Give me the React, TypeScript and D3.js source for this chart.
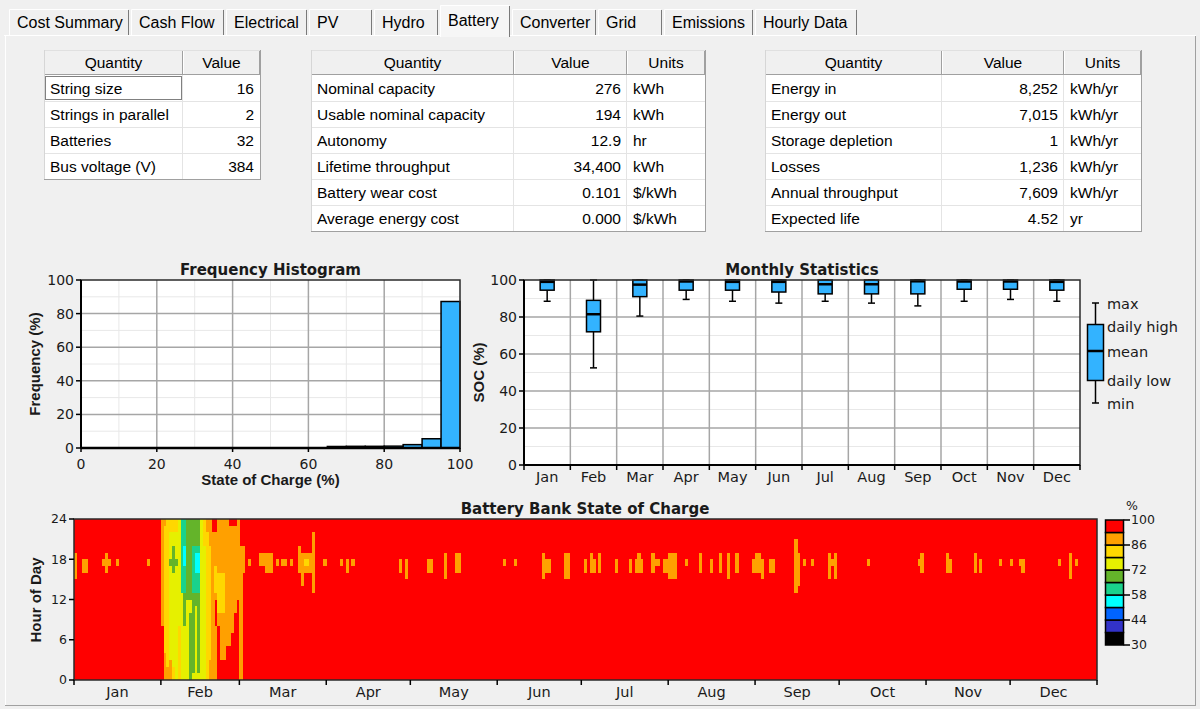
import React from "react";
import * as d3 from "d3";

// ---------------- data ----------------
const tabLabels = ["Cost Summary", "Cash Flow", "Electrical", "PV", "Hydro", "Battery", "Converter", "Grid", "Emissions", "Hourly Data"];
const selectedTab = "Battery";

const stringHeaders = ["Quantity", "Value"];
const stringQuantities = ["String size", "Strings in parallel", "Batteries", "Bus voltage (V)"];
const stringValues = ["16", "2", "32", "384"];

const tableHeaders = ["Quantity", "Value", "Units"];
const capacityQuantities = ["Nominal capacity", "Usable nominal capacity", "Autonomy", "Lifetime throughput", "Battery wear cost", "Average energy cost"];
const capacityValues = ["276", "194", "12.9", "34,400", "0.101", "0.000"];
const capacityUnits = ["kWh", "kWh", "hr", "kWh", "$/kWh", "$/kWh"];

const energyQuantities = ["Energy in", "Energy out", "Storage depletion", "Losses", "Annual throughput", "Expected life"];
const energyValues = ["8,252", "7,015", "1", "1,236", "7,609", "4.52"];
const energyUnits = ["kWh/yr", "kWh/yr", "kWh/yr", "kWh/yr", "kWh/yr", "yr"];

// Frequency histogram (5% bins)
const histBinStart = [0, 5, 10, 15, 20, 25, 30, 35, 40, 45, 50, 55, 60, 65, 70, 75, 80, 85, 90, 95];
const histFrequency = [0, 0, 0, 0, 0, 0, 0, 0, 0, 0, 0, 0, 0, 0.9, 1.0, 1.0, 1.1, 2.0, 5.5, 87.2];
const histTicks = [0, 20, 40, 60, 80, 100];

// Monthly statistics (SOC %)
const months = ["Jan", "Feb", "Mar", "Apr", "May", "Jun", "Jul", "Aug", "Sep", "Oct", "Nov", "Dec"];
const socMin = [88.5, 52.5, 80.5, 89.5, 88.5, 87.5, 88.5, 87.5, 86, 88.5, 89.5, 88.5];
const socDailyLow = [94.5, 72, 91, 94.5, 94.5, 93.5, 92.5, 92.5, 92.5, 95, 95, 94.5];
const socMean = [99, 81.5, 97.5, 99.2, 99, 99, 97.7, 97.7, 99.3, 99.2, 99.2, 99];
const socDailyHigh = [100, 89, 100, 100, 100, 100, 100, 100, 100, 100, 100, 100];
const socMax = [100, 100, 100, 100, 100, 100, 100, 100, 100, 100, 100, 100];
const legendLabels = ["max", "daily high", "mean", "daily low", "min"];

// Heat map (day of year x hour of day)
const monthStartDay = [0, 31, 59, 90, 120, 151, 181, 212, 243, 273, 304, 334, 365];
const hourTicks = [0, 6, 12, 18, 24];
const socBandEdges = [30, 37, 44, 51, 58, 65, 72, 79, 86, 93, 100];
const socBandColors = ["#000000", "#3232c8", "#0064ff", "#00ffff", "#1ad28c", "#64b42a", "#e6f000", "#ffd700", "#ffa000", "#ff0000"];
const colorbarTicks = [100, 86, 72, 58, 44, 30];
const fullSoc = 100;
// [firstDay, lastDay, firstHour, lastHour, SOC%]  (everything else is ~100%)
const lowSocPatches: [number, number, number, number, number][] = [
  // January
  [0, 0, 15, 18, 90], [3, 4, 16, 17, 90], [10, 10, 17, 17, 90], [11, 11, 16, 18, 90], [12, 12, 17, 17, 90],
  [15, 15, 17, 17, 90], [26, 26, 17, 17, 90],
  // February depletion
  [31, 31, 8, 23, 90],
  [32, 32, 0, 23, 83], [32, 32, 0, 3, 90], [32, 32, 23, 23, 90],
  [33, 33, 0, 23, 83], [33, 33, 0, 1, 90],
  [34, 37, 0, 23, 76], [34, 34, 0, 2, 90], [35, 35, 0, 1, 83], [37, 37, 0, 7, 83], [34, 36, 22, 23, 83],
  [34, 36, 17, 17, 69], [35, 35, 16, 19, 69],
  [38, 38, 0, 12, 76], [38, 38, 13, 23, 62],
  [39, 39, 0, 7, 76], [39, 39, 8, 12, 69], [39, 39, 13, 23, 62], [39, 39, 17, 19, 55],
  [40, 41, 0, 11, 76], [40, 41, 12, 23, 69], [41, 41, 0, 9, 69],
  [42, 44, 0, 23, 69], [42, 44, 13, 19, 62], [43, 44, 16, 18, 55], [42, 42, 0, 0, 76], [43, 43, 0, 10, 76], [44, 44, 0, 0, 76],
  [45, 45, 0, 23, 76],
  [46, 46, 0, 19, 76], [46, 46, 20, 23, 83],
  [47, 47, 0, 23, 83], [47, 47, 22, 23, 90],
  [48, 48, 0, 23, 83], [48, 48, 20, 23, 90], [48, 48, 0, 2, 90],
  [49, 49, 0, 21, 90],
  [50, 50, 0, 7, 90], [50, 50, 12, 21, 90], [50, 50, 13, 16, 83],
  [51, 51, 8, 23, 90], [51, 51, 10, 15, 83],
  [52, 53, 3, 23, 90], [52, 53, 10, 15, 83],
  [54, 54, 5, 23, 90], [55, 55, 5, 22, 90], [56, 56, 7, 22, 90], [57, 57, 10, 22, 90],
  [58, 58, 12, 23, 90], [59, 59, 0, 19, 90],
  // March
  [60, 60, 16, 19, 90], [62, 62, 17, 17, 90], [66, 67, 17, 18, 90], [68, 68, 16, 18, 90], [69, 70, 16, 18, 90],
  [72, 72, 17, 17, 90], [74, 74, 17, 17, 90], [75, 75, 17, 17, 90], [77, 77, 17, 17, 90],
  [80, 84, 16, 18, 90], [81, 81, 14, 15, 90], [80, 80, 19, 19, 90], [85, 85, 13, 21, 90], [82, 83, 17, 17, 83],
  // April
  [89, 89, 17, 17, 90], [95, 95, 17, 17, 90], [97, 97, 16, 17, 90], [99, 99, 17, 17, 90],
  [116, 116, 16, 17, 90], [118, 118, 15, 17, 90],
  // May
  [126, 127, 16, 17, 90], [132, 132, 15, 18, 90], [136, 137, 16, 18, 90],
  // June
  [153, 153, 17, 17, 90], [157, 157, 17, 17, 90], [167, 167, 15, 18, 90], [168, 169, 16, 17, 90], [175, 176, 15, 18, 90],
  // July
  [182, 182, 16, 17, 90], [184, 184, 16, 18, 90], [185, 185, 16, 17, 90], [187, 187, 16, 18, 90], [193, 193, 16, 17, 90],
  [198, 198, 16, 17, 90], [200, 202, 16, 17, 90], [201, 201, 18, 18, 90], [206, 206, 16, 18, 90], [207, 208, 17, 17, 90],
  [210, 211, 16, 17, 90], [212, 214, 15, 18, 90],
  // August
  [218, 218, 17, 17, 90], [223, 223, 16, 18, 90], [227, 227, 16, 17, 90], [230, 230, 16, 18, 90], [233, 233, 15, 18, 90],
  [236, 236, 16, 18, 90], [242, 242, 16, 17, 90], [243, 244, 16, 18, 90], [245, 245, 15, 17, 90], [248, 249, 16, 17, 90],
  // September
  [257, 257, 13, 20, 90], [258, 258, 14, 18, 90], [260, 260, 17, 17, 90], [263, 263, 17, 17, 90],
  [269, 269, 15, 18, 90], [270, 270, 17, 17, 90], [271, 271, 15, 18, 90],
  // October
  [283, 283, 17, 17, 90], [301, 301, 17, 17, 90], [302, 302, 16, 18, 90],
  // November
  [311, 311, 16, 18, 90], [312, 312, 16, 17, 90], [321, 321, 16, 18, 90], [323, 323, 16, 17, 90],
  [330, 330, 17, 17, 90], [334, 334, 17, 17, 90], [337, 338, 17, 17, 90], [338, 338, 16, 17, 90],
  // December
  [351, 351, 17, 17, 90], [355, 355, 15, 18, 90], [357, 357, 17, 17, 90],
];

// ---------------- layout / style ----------------
const W = 1200;
const H = 709;
const FONT_UI = "'Liberation Sans', Arial, Helvetica, sans-serif";
const FONT_CH = "'DejaVu Sans', Verdana, sans-serif";
const TXT = "#1a1a1a";
const BLUE = "#33b3ff";
const GRID_MAJOR = "#a6a6a6";
const GRID_MINOR = "#e8e8e8";
const FRAME = "#2a2a2a";
const tabEdges = [9, 131, 226, 309, 374, 440, 512, 598, 664, 755, 859];

function Tabs() {
  return (
    <g>
      <line x1={4} x2={1196} y1={35.5} y2={35.5} stroke="#ffffff" />
      {tabLabels.map((t, i) => {
        const sel = t === selectedTab;
        const x0 = tabEdges[i];
        const x1 = tabEdges[i + 1] - 2;
        const y0 = sel ? 5 : 9;
        const y1 = sel ? 37 : 35;
        return (
          <g key={t}>
            <rect x={x0} y={y0} width={x1 - x0} height={y1 - y0} fill={sel ? "#f6f6f6" : "#f0f0f0"} />
            <path d={`M${x0 + 0.5},${y1} V${y0 + 0.5} H${x1 - 1}`} stroke="#ffffff" fill="none" />
            <line x1={x1 - 0.5} x2={x1 - 0.5} y1={y0 + 1} y2={y1} stroke="#7a7a7a" />
            <text x={x0 + 8} y={sel ? 25.5 : 28} fontFamily={FONT_UI} fontSize={16} fill="#000">{t}</text>
          </g>
        );
      })}
      <line x1={5.5} x2={5.5} y1={36} y2={705} stroke="#ffffff" />
      <line x1={1195.5} x2={1195.5} y1={36} y2={705} stroke="#a0a0a0" />
      <line x1={5} x2={1196} y1={705.5} y2={705.5} stroke="#a0a0a0" />
    </g>
  );
}

type Align = "start" | "end";
function DataTable(props: { x: number; y: number; widths: number[]; headers: string[]; columns: string[][]; aligns: Align[]; focusFirst?: boolean }) {
  const { x, y, widths, headers, columns, aligns, focusFirst } = props;
  const HH = 25;
  const RH = 26;
  const pad = 6;
  const nRows = columns[0].length;
  const edges = [x];
  widths.forEach((w) => edges.push(edges[edges.length - 1] + w));
  const right = edges[edges.length - 1];
  const bodyTop = y + HH;
  const bottom = bodyTop + nRows * RH;
  return (
    <g fontFamily={FONT_UI} fontSize={15.5}>
      <rect x={x} y={bodyTop} width={right - x} height={nRows * RH} fill="#ffffff" />
      {d3.range(1, nRows).map((r) => (
        <line key={"r" + r} x1={x} x2={right} y1={bodyTop + r * RH + 0.5} y2={bodyTop + r * RH + 0.5} stroke="#e4e4e4" />
      ))}
      {edges.slice(1, -1).map((e, i) => (
        <line key={"c" + i} x1={e - 0.5} x2={e - 0.5} y1={bodyTop} y2={bottom} stroke="#e4e4e4" />
      ))}
      {headers.map((h, i) => (
        <g key={h}>
          <rect x={edges[i]} y={y} width={widths[i]} height={HH} fill="#f0f0f0" />
          <line x1={edges[i] + 0.5} x2={edges[i] + 0.5} y1={y} y2={y + HH} stroke="#ffffff" />
          <line x1={edges[i + 1] - 0.5} x2={edges[i + 1] - 0.5} y1={y} y2={y + HH} stroke="#a0a0a0" />
          <text x={(edges[i] + edges[i + 1]) / 2} y={y + 18} textAnchor="middle" fill="#000">{h}</text>
        </g>
      ))}
      <line x1={x} x2={right} y1={y + 0.5} y2={y + 0.5} stroke="#e0e0e0" />
      <line x1={x} x2={right} y1={bodyTop - 0.5} y2={bodyTop - 0.5} stroke="#a0a0a0" />
      {columns.map((col, c) =>
        col.map((v, r) => (
          <text
            key={c + "-" + r}
            x={aligns[c] === "start" ? edges[c] + pad : edges[c + 1] - pad}
            y={bodyTop + r * RH + 18.5}
            textAnchor={aligns[c]}
            fill="#000"
          >
            {v}
          </text>
        ))
      )}
      {focusFirst && (
        <rect x={x + 1.5} y={bodyTop + 1.5} width={widths[0] - 3} height={RH - 3} fill="none" stroke="#000" strokeDasharray="1,1" />
      )}
      <line x1={x + 0.5} x2={x + 0.5} y1={y} y2={bottom} stroke="#d6d6d6" />
      <line x1={right + 0.5} x2={right + 0.5} y1={y} y2={bottom + 1} stroke="#a0a0a0" />
      <line x1={x} x2={right + 1} y1={bottom + 0.5} y2={bottom + 0.5} stroke="#a0a0a0" />
    </g>
  );
}

function Histogram() {
  const x = d3.scaleLinear().domain([0, 100]).range([81, 460]);
  const y = d3.scaleLinear().domain([0, 100]).range([448, 280]);
  const minor = d3.range(10, 100, 20);
  const major = [20, 40, 60, 80];
  return (
    <g fontFamily={FONT_CH} fill={TXT}>
      <text x={(x(0) + x(100)) / 2} y={275} textAnchor="middle" fontWeight="bold" fontSize={15}>Frequency Histogram</text>
      <rect x={x(0)} y={y(100)} width={x(100) - x(0)} height={y(0) - y(100)} fill="#ffffff" />
      {minor.map((v) => (
        <g key={"m" + v}>
          <line x1={x(v)} x2={x(v)} y1={y(0)} y2={y(100)} stroke={GRID_MINOR} />
          <line x1={x(0)} x2={x(100)} y1={y(v)} y2={y(v)} stroke={GRID_MINOR} />
        </g>
      ))}
      {major.map((v) => (
        <g key={"M" + v}>
          <line x1={x(v)} x2={x(v)} y1={y(0)} y2={y(100)} stroke={GRID_MAJOR} strokeWidth={1.5} />
          <line x1={x(0)} x2={x(100)} y1={y(v)} y2={y(v)} stroke={GRID_MAJOR} strokeWidth={1.5} />
        </g>
      ))}
      {histBinStart.map((b, i) =>
        histFrequency[i] > 0 ? (
          <rect key={b} x={x(b)} y={y(histFrequency[i])} width={x(b + 5) - x(b)} height={y(0) - y(histFrequency[i])} fill={BLUE} stroke="#000" strokeWidth={1.5} />
        ) : null
      )}
      <rect x={x(0)} y={y(100)} width={x(100) - x(0)} height={y(0) - y(100)} fill="none" stroke={FRAME} strokeWidth={1.5} />
      <line x1={x(0)} x2={x(100)} y1={y(0)} y2={y(0)} stroke="#000" strokeWidth={2.5} />
      <line x1={x(0)} x2={x(0)} y1={y(0)} y2={y(100)} stroke="#000" strokeWidth={2} />
      {histTicks.map((t) => (
        <g key={"t" + t}>
          <line x1={x(0) - 5} x2={x(0)} y1={y(t)} y2={y(t)} stroke="#000" strokeWidth={1.5} />
          <text x={x(0) - 7} y={y(t) + 5} textAnchor="end" fontSize={14}>{t}</text>
          <line x1={x(t)} x2={x(t)} y1={y(0)} y2={y(0) + 4} stroke="#000" strokeWidth={1.5} />
          <text x={x(t)} y={469} textAnchor="middle" fontSize={14}>{t}</text>
        </g>
      ))}
      <text x={(x(0) + x(100)) / 2} y={485} textAnchor="middle" fontFamily={FONT_UI} fontWeight="bold" fontSize={15}>State of Charge (%)</text>
      <text transform={`translate(40,${(y(0) + y(100)) / 2}) rotate(-90)`} textAnchor="middle" fontFamily={FONT_UI} fontWeight="bold" fontSize={15}>Frequency (%)</text>
    </g>
  );
}

function MonthlyChart() {
  const x = d3.scaleBand<string>().domain(months).range([524, 1080]);
  const y = d3.scaleLinear().domain([0, 100]).range([465, 280]);
  const bw = 14;
  const cap = 7;
  const bandEdges = months.map((m) => x(m) as number).concat([1080]);
  return (
    <g fontFamily={FONT_CH} fill={TXT}>
      <text x={802} y={275} textAnchor="middle" fontWeight="bold" fontSize={15}>Monthly Statistics</text>
      <rect x={524} y={y(100)} width={556} height={y(0) - y(100)} fill="#ffffff" />
      {[10, 30, 50, 70, 90].map((v) => (
        <line key={"m" + v} x1={524} x2={1080} y1={y(v)} y2={y(v)} stroke={GRID_MINOR} />
      ))}
      {[20, 40, 60, 80].map((v) => (
        <line key={"M" + v} x1={524} x2={1080} y1={y(v)} y2={y(v)} stroke={GRID_MAJOR} strokeWidth={1.5} />
      ))}
      {bandEdges.slice(1, -1).map((e, i) => (
        <line key={"v" + i} x1={e} x2={e} y1={y(0)} y2={y(100)} stroke={GRID_MAJOR} strokeWidth={1.5} />
      ))}
      {months.map((m, i) => {
        const cx = (x(m) as number) + x.bandwidth() / 2;
        return (
          <g key={m}>
            <line x1={cx} x2={cx} y1={y(socMin[i])} y2={y(socDailyLow[i])} stroke="#000" strokeWidth={1.5} />
            <line x1={cx} x2={cx} y1={y(socDailyHigh[i])} y2={y(socMax[i])} stroke="#000" strokeWidth={1.5} />
            <line x1={cx - cap / 2} x2={cx + cap / 2} y1={y(socMin[i])} y2={y(socMin[i])} stroke="#000" strokeWidth={1.5} />
            <line x1={cx - cap / 2} x2={cx + cap / 2} y1={y(socMax[i])} y2={y(socMax[i])} stroke="#000" strokeWidth={1.5} />
            <rect x={cx - bw / 2} y={y(socDailyHigh[i])} width={bw} height={y(socDailyLow[i]) - y(socDailyHigh[i])} fill={BLUE} stroke="#000" strokeWidth={1.5} />
            <line x1={cx - bw / 2} x2={cx + bw / 2} y1={y(socMean[i])} y2={y(socMean[i])} stroke="#000" strokeWidth={2.5} />
            <text x={cx} y={482} textAnchor="middle" fontSize={14.5}>{m}</text>
          </g>
        );
      })}
      <rect x={524} y={y(100)} width={556} height={y(0) - y(100)} fill="none" stroke={FRAME} strokeWidth={1.5} />
      <line x1={524} x2={1080} y1={y(0)} y2={y(0)} stroke="#000" strokeWidth={2} />
      <line x1={524} x2={524} y1={y(0)} y2={y(100)} stroke="#000" strokeWidth={2} />
      {bandEdges.map((e, i) => (
        <line key={"bt" + i} x1={e} x2={e} y1={y(0)} y2={y(0) + 5} stroke="#000" strokeWidth={1.5} />
      ))}
      {histTicks.map((t) => (
        <g key={"yt" + t}>
          <line x1={519} x2={524} y1={y(t)} y2={y(t)} stroke="#000" strokeWidth={1.5} />
          <text x={517} y={y(t) + 5} textAnchor="end" fontSize={14}>{t}</text>
        </g>
      ))}
      <text transform={`translate(484,${(y(0) + y(100)) / 2}) rotate(-90)`} textAnchor="middle" fontFamily={FONT_UI} fontWeight="bold" fontSize={15}>SOC (%)</text>
      {/* legend glyph */}
      <g>
        <line x1={1095.5} x2={1095.5} y1={303} y2={403} stroke="#000" strokeWidth={1.5} />
        <line x1={1092} x2={1099} y1={303} y2={303} stroke="#000" strokeWidth={1.5} />
        <line x1={1092} x2={1099} y1={403} y2={403} stroke="#000" strokeWidth={1.5} />
        <rect x={1087.5} y={324.5} width={16} height={56} fill={BLUE} stroke="#000" strokeWidth={1.5} />
        <line x1={1087.5} x2={1103.5} y1={351} y2={351} stroke="#000" strokeWidth={2.5} />
        {legendLabels.map((l, i) => (
          <text key={l} x={1107} y={[304, 327, 352, 381, 404][i]} dy="0.35em" fontSize={14.5}>{l}</text>
        ))}
      </g>
    </g>
  );
}

function HeatMap() {
  const x = d3.scaleLinear().domain([0, 365]).range([74, 1097]);
  const y = d3.scaleLinear().domain([0, 24]).range([680, 519]);
  const color = d3.scaleThreshold<number, string>().domain(socBandEdges.slice(1, -1)).range(socBandColors);
  const grid: number[][] = d3.range(365).map(() => d3.range(24).map(() => fullSoc));
  for (const [d0, d1, h0, h1, v] of lowSocPatches) {
    for (let d = d0; d <= d1; d++) for (let h = h0; h <= h1; h++) grid[d][h] = v;
  }
  const fullColor = color(fullSoc);
  const cells: { d: number; h0: number; h1: number; c: string }[] = [];
  grid.forEach((col, d) => {
    let h = 0;
    while (h < 24) {
      const c = color(col[h]);
      let e = h;
      while (e + 1 < 24 && color(col[e + 1]) === c) e++;
      if (c !== fullColor) cells.push({ d, h0: h, h1: e, c });
      h = e + 1;
    }
  });
  const yc = d3.scaleLinear().domain([30, 100]).range([645, 520]);
  return (
    <g fontFamily={FONT_CH} fill={TXT}>
      <text x={585} y={514} textAnchor="middle" fontWeight="bold" fontSize={15}>Battery Bank State of Charge</text>
      <rect x={x(0)} y={y(24)} width={x(365) - x(0)} height={y(0) - y(24)} fill={fullColor} />
      <g shapeRendering="crispEdges">
        {cells.map((c, i) => (
          <rect key={i} x={x(c.d)} y={y(c.h1 + 1)} width={x(c.d + 1) - x(c.d) + 0.4} height={y(c.h0) - y(c.h1 + 1)} fill={c.c} />
        ))}
      </g>
      <rect x={x(0)} y={y(24)} width={x(365) - x(0)} height={y(0) - y(24)} fill="none" stroke={FRAME} strokeWidth={1.5} />
      {monthStartDay.map((d, i) => (
        <line key={"xt" + i} x1={x(d)} x2={x(d)} y1={y(0)} y2={y(0) + 5} stroke="#000" strokeWidth={1.5} />
      ))}
      {months.map((m, i) => (
        <text key={m} x={(x(monthStartDay[i]) + x(monthStartDay[i + 1])) / 2} y={697} textAnchor="middle" fontSize={14.5}>{m}</text>
      ))}
      {hourTicks.map((h) => (
        <g key={"yt" + h}>
          <line x1={x(0) - 5} x2={x(0)} y1={y(h)} y2={y(h)} stroke="#000" strokeWidth={1.5} />
          <text x={x(0) - 7} y={y(h)} dy="0.35em" textAnchor="end" fontSize={12.5}>{h}</text>
        </g>
      ))}
      <text transform={`translate(41,600) rotate(-90)`} textAnchor="middle" fontFamily={FONT_UI} fontWeight="bold" fontSize={15}>Hour of Day</text>
      {/* colour bar */}
      {socBandColors.map((c, i) => (
        <rect key={c} x={1105.5} y={yc(socBandEdges[i + 1])} width={18} height={yc(socBandEdges[i]) - yc(socBandEdges[i + 1])} fill={c} stroke="#000" strokeWidth={1.5} />
      ))}
      {colorbarTicks.map((t) => (
        <g key={"cb" + t}>
          <line x1={1123.5} x2={1130} y1={yc(t)} y2={yc(t)} stroke="#000" strokeWidth={1.5} />
          <text x={1131} y={yc(t)} dy="0.35em" fontSize={12.5}>{t}</text>
        </g>
      ))}
      <text x={1132} y={510} textAnchor="middle" fontSize={12.5}>%</text>
    </g>
  );
}

export default function App() {
  return (
    <div style={{ position: "absolute", left: 0, top: 0, width: W, height: H, background: "#f0f0f0", overflow: "hidden" }}>
      <svg width={W} height={H} style={{ display: "block" }}>
        <rect width={W} height={H} fill="#f0f0f0" />
        <Tabs />
        <DataTable x={44} y={50} widths={[139, 77]} headers={stringHeaders} columns={[stringQuantities, stringValues]} aligns={["start", "end"]} focusFirst />
        <DataTable x={311} y={50} widths={[203, 113, 78]} headers={tableHeaders} columns={[capacityQuantities, capacityValues, capacityUnits]} aligns={["start", "end", "start"]} />
        <DataTable x={765} y={50} widths={[177, 122, 77]} headers={tableHeaders} columns={[energyQuantities, energyValues, energyUnits]} aligns={["start", "end", "start"]} />
        <Histogram />
        <MonthlyChart />
        <HeatMap />
      </svg>
    </div>
  );
}
